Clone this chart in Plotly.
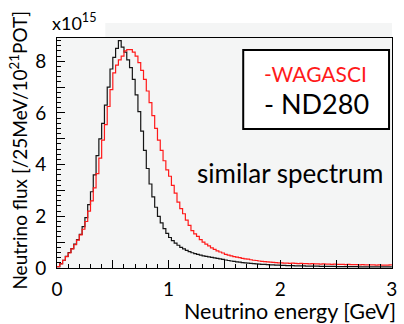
import plotly.graph_objects as go

# Bin lower edges: 25 MeV bins from 0 to 3 GeV (120 bins)
bin_width = 0.025
n_bins = 120
edges = [round(i * bin_width, 4) for i in range(n_bins + 1)]

nd280_flux = [
    0.05, 0.17, 0.30, 0.45, 0.60, 0.75, 0.92, 1.10, 1.30, 1.60,
    1.95, 2.45, 2.95, 3.60, 4.35, 5.00, 5.60, 6.30, 7.00, 7.70,
    8.15, 8.50, 8.80, 8.55, 8.35, 8.05, 7.75, 7.30, 6.70, 6.05,
    5.30, 4.55, 3.85, 3.25, 2.75, 2.35, 2.00, 1.75, 1.52, 1.34,
    1.18, 1.06, 0.96, 0.88, 0.80, 0.74, 0.68, 0.63, 0.59, 0.56,
    0.53, 0.50, 0.47, 0.45, 0.43, 0.41, 0.39, 0.37, 0.35, 0.33,
    0.31, 0.29, 0.27, 0.26, 0.24, 0.23, 0.21, 0.20, 0.19, 0.18,
    0.17, 0.16, 0.15, 0.14, 0.14, 0.13, 0.12, 0.12, 0.11, 0.11,
    0.10, 0.10, 0.09, 0.09, 0.09, 0.08, 0.08, 0.08, 0.08, 0.07,
    0.07, 0.07, 0.07, 0.07, 0.06, 0.06, 0.06, 0.06, 0.06, 0.06,
    0.05, 0.05, 0.05, 0.05, 0.05, 0.05, 0.05, 0.05, 0.04, 0.04,
    0.04, 0.04, 0.04, 0.04, 0.04, 0.04, 0.04, 0.04, 0.04, 0.04,
]

wagasci_flux = [
    0.05, 0.16, 0.30, 0.44, 0.58, 0.74, 0.90, 1.08, 1.28, 1.50,
    1.80, 2.20, 2.60, 3.10, 3.65, 4.25, 4.95, 5.55, 6.25, 6.90,
    7.55, 7.85, 8.05, 8.20, 8.40, 8.45, 8.45, 8.35, 8.20, 7.95,
    7.65, 7.30, 6.85, 6.40, 5.90, 5.40, 4.95, 4.55, 4.15, 3.80,
    3.55, 3.20, 2.90, 2.55, 2.30, 2.10, 1.85, 1.65, 1.45, 1.32,
    1.22, 1.10, 1.00, 0.92, 0.86, 0.78, 0.72, 0.66, 0.62, 0.58,
    0.53, 0.50, 0.47, 0.44, 0.42, 0.40, 0.37, 0.35, 0.34, 0.32,
    0.30, 0.29, 0.27, 0.26, 0.25, 0.24, 0.23, 0.22, 0.21, 0.20,
    0.20, 0.19, 0.19, 0.18, 0.19, 0.18, 0.17, 0.18, 0.17, 0.17,
    0.16, 0.17, 0.16, 0.16, 0.15, 0.16, 0.15, 0.15, 0.14, 0.15,
    0.14, 0.14, 0.14, 0.13, 0.14, 0.13, 0.13, 0.13, 0.12, 0.13,
    0.12, 0.12, 0.12, 0.12, 0.11, 0.12, 0.11, 0.11, 0.11, 0.12,
]

x_tick_vals = [0, 0.5, 1, 1.5, 2, 2.5, 3]
x_tick_text = ["0", "", "1", "", "2", "", "3"]
y_tick_vals = [0, 1, 2, 3, 4, 5, 6, 7, 8]
y_tick_text = ["0", "", "2", "", "4", "", "6", "", "8"]

FONT = "Lato"

def steps(vals):
    return vals + [vals[-1]]

fig = go.Figure()
fig.add_trace(go.Scatter(x=edges, y=steps(nd280_flux), mode="lines",
                         line=dict(shape="hv", color="#151515", width=1.2),
                         showlegend=False))
fig.add_trace(go.Scatter(x=edges, y=steps(wagasci_flux), mode="lines",
                         line=dict(shape="hv", color="#ff1a1a", width=1.2),
                         showlegend=False))

fig.update_layout(
    width=404, height=324,
    margin=dict(l=57, r=7, t=38, b=56),
    paper_bgcolor="white",
    plot_bgcolor="#f4f5f5",
    font=dict(family=FONT, color="black"),
    xaxis=dict(range=[0, 3.001], tickvals=x_tick_vals, ticktext=x_tick_text,
               ticks="inside", ticklen=8, tickwidth=1, tickcolor="black",
               minor=dict(dtick=0.1, ticks="inside", ticklen=4, tickcolor="black"),
               showline=True, mirror=True, linecolor="black", linewidth=1,
               showgrid=False, zeroline=False,
               tickfont=dict(size=19, family=FONT), ticklabelstandoff=4),
    yaxis=dict(range=[0, 8.9], tickvals=y_tick_vals, ticktext=y_tick_text,
               ticks="inside", ticklen=8, tickwidth=1, tickcolor="black",
               minor=dict(dtick=0.2, ticks="inside", ticklen=4, tickcolor="black"),
               showline=True, mirror=True, linecolor="black", linewidth=1,
               showgrid=False, zeroline=False,
               tickfont=dict(size=19, family=FONT), ticklabelstandoff=6),
)

# grey strip above plot (as in the source image)
fig.add_shape(type="rect", xref="paper", yref="paper",
              x0=(106 - 57) / 340, x1=1.0, y0=1.0, y1=1 + 15 / 230,
              fillcolor="#f4f5f5", line=dict(width=0), layer="below")

# legend box
fig.add_shape(type="rect", xref="paper", yref="paper",
              x0=(246 - 57) / 340, x1=(394 - 57) / 340,
              y0=(268 - 129) / 230, y1=(268 - 50) / 230,
              fillcolor="white", line=dict(color="black", width=2))

fig.add_annotation(xref="paper", yref="paper", x=(319 - 57) / 340, y=(268 - 73) / 230,
                   text="-WAGASCI", showarrow=False, xanchor="center", yanchor="middle",
                   font=dict(size=21, color="#ff1a1a", family=FONT))
fig.add_annotation(xref="paper", yref="paper", x=(320 - 57) / 340, y=(268 - 103) / 230,
                   text="- ND280", showarrow=False, xanchor="center", yanchor="middle",
                   font=dict(size=27, color="black", family=FONT))
fig.add_annotation(xref="paper", yref="paper", x=(293 - 57) / 340, y=(268 - 173) / 230,
                   text="similar spectrum", showarrow=False, xanchor="center", yanchor="middle",
                   font=dict(size=26, color="black", family=FONT))

# axis titles
fig.add_annotation(xref="paper", yref="paper", x=(403 - 57) / 340, y=(268 - 311) / 230,
                   text="Neutrino energy [GeV]", showarrow=False, xanchor="right", yanchor="middle",
                   font=dict(size=21.5, family=FONT))
fig.add_annotation(xref="paper", yref="paper", x=(17 - 57) / 340, y=(268 - 150) / 230,
                   text="Neutrino flux [/25MeV/10<sup>21</sup>POT]", showarrow=False,
                   textangle=-90, xanchor="center", yanchor="middle",
                   font=dict(size=19, family=FONT))
fig.add_annotation(xref="paper", yref="paper", x=(50 - 57) / 340, y=(268 - 22) / 230,
                   text="x10<sup>15</sup>", showarrow=False, xanchor="left", yanchor="middle",
                   font=dict(size=18, family=FONT))

fig.write_html("out.html", config={"displayModeBar": False},
               post_script="document.body.style.margin='0';document.body.style.overflow='hidden';")
